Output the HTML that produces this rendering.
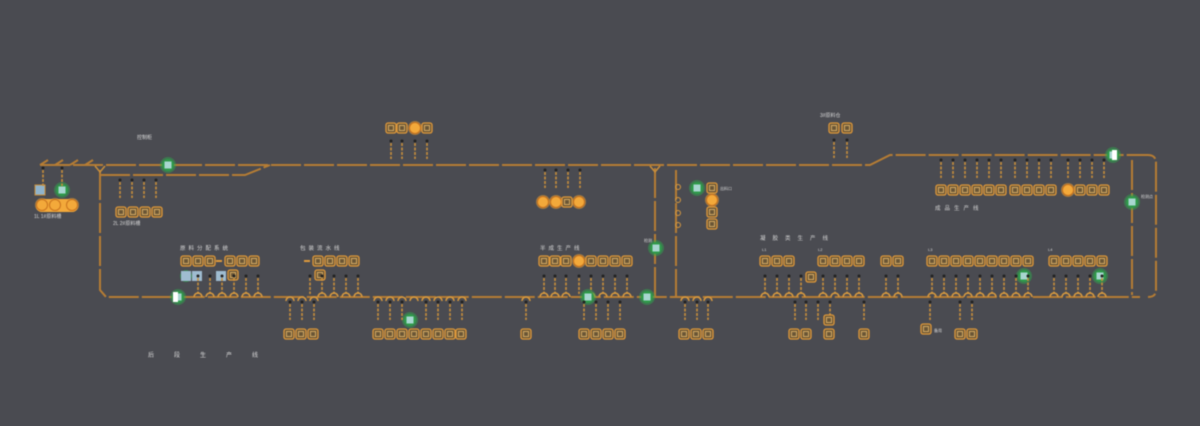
<!DOCTYPE html>
<html><head><meta charset="utf-8"><style>
html,body{margin:0;padding:0;background:#4a4b51;}
svg{display:block;filter:blur(0.6px)}
text{font-family:"Liberation Sans","Noto Sans CJK SC",sans-serif;fill:#d8d8d8}
</style></head><body>
<svg width="1200" height="426" viewBox="0 0 1200 426" xmlns="http://www.w3.org/2000/svg">
<defs>
<g id="b"><rect x="-5" y="-5" width="10" height="10" rx="2" fill="#6a5636" stroke="#e09a3c" stroke-width="1.3"/><rect x="-2.5" y="-2.5" width="5" height="5" fill="none" stroke="#f0c070" stroke-width="0.8"/></g>
<g id="s"><line x1="0" y1="0" x2="0" y2="16" stroke="#c98f3c" stroke-width="1.6" stroke-dasharray="3 1.5"/><circle cx="0" cy="-2" r="1.5" fill="#222"/></g>
<g id="u"><path d="M-4 3 A4 4 0 0 1 4 3" fill="none" stroke="#d89a40" stroke-width="1.6"/></g>
<g id="o"><circle r="7" fill="#f3a93a" opacity="0.5"/><circle r="5.5" fill="#f3a93a" stroke="#c8721e" stroke-width="1"/></g>
<g id="g"><circle r="8" fill="#2fae4e" opacity="0.45"/><circle r="6" fill="#2f9a4a"/><rect x="-3.5" y="-3.5" width="7" height="7" fill="#a8d6d0"/></g>
</defs>
<g fill="none" stroke="#b67d34" stroke-width="2" stroke-dasharray="30 3">
<path d="M40 165 H870 L890 155 H1148 Q1156 155 1156 163 V290 Q1156 297 1148 297"/>
<path d="M100 175 H245 L270 165"/>
<path d="M100 170 V290 L106 297 H1140"/>
<path d="M655 168 V297"/><path d="M676 170 V297"/>
<path d="M1132 160 V295"/>
<path d="M40 165 L48 160 M55 165 L63 160 M70 165 L78 160 M85 165 L93 160"/>
</g>
<path d="M95 166 L100 172 L105 166" stroke="#c98f3c" fill="none" stroke-width="1.5"/>
<path d="M650 166 L655 172 L660 166" stroke="#c98f3c" fill="none" stroke-width="1.5"/>
<rect x="35" y="185" width="10" height="10" fill="#8fb3cc" stroke="#c98f3c"/>
<use href="#g" x="62" y="190"/>
<rect x="36" y="199" width="42" height="13" rx="6" fill="#f3a93a"/>
<use href="#o" x="42" y="205"/><use href="#o" x="55" y="205"/><use href="#o" x="72" y="205"/>
<text x="34" y="218" font-size="5">1L 1#原料槽</text>
<use href="#s" x="43" y="170"/><use href="#s" x="62" y="170"/>
<use href="#g" x="168" y="165"/><text x="137" y="139" font-size="5">控制柜</text>
<use href="#s" x="120" y="182"/><use href="#s" x="132" y="182"/><use href="#s" x="144" y="182"/><use href="#s" x="156" y="182"/>
<use href="#b" x="121" y="212"/><use href="#b" x="133" y="212"/><use href="#b" x="145" y="212"/><use href="#b" x="157" y="212"/>
<text x="113" y="225" font-size="5">2L 2#原料槽</text>
<use href="#b" x="391" y="128"/><use href="#b" x="402" y="128"/><use href="#o" x="415" y="128"/><use href="#b" x="427" y="128"/>
<use href="#s" x="391" y="143"/><use href="#s" x="402" y="143"/><use href="#s" x="415" y="143"/><use href="#s" x="427" y="143"/>
<use href="#s" x="545" y="172"/><use href="#s" x="556" y="172"/><use href="#s" x="568" y="172"/><use href="#s" x="580" y="172"/>
<use href="#o" x="543" y="202"/><use href="#o" x="556" y="202"/><use href="#b" x="567" y="202"/><use href="#o" x="579" y="202"/>
<text x="820" y="117" font-size="5">3#原料仓</text>
<use href="#b" x="834" y="128"/><use href="#b" x="847" y="128"/>
<use href="#s" x="834" y="142"/><use href="#s" x="847" y="142"/>
<circle cx="678" cy="187" r="2.5" fill="none" stroke="#d89a40"/><circle cx="678" cy="200" r="2.5" fill="none" stroke="#d89a40"/><circle cx="678" cy="213" r="2.5" fill="none" stroke="#d89a40"/><circle cx="678" cy="225" r="2.5" fill="none" stroke="#d89a40"/>
<use href="#g" x="697" y="188"/><use href="#b" x="712" y="188"/><text x="720" y="190" font-size="4">出料口</text>
<use href="#o" x="712" y="200"/><use href="#b" x="712" y="212"/><use href="#b" x="712" y="224"/>
<use href="#g" x="656" y="248"/><text x="644" y="242" font-size="4">检测</text>
<use href="#s" x="941" y="162"/><use href="#s" x="953" y="162"/><use href="#s" x="965" y="162"/><use href="#s" x="977" y="162"/><use href="#s" x="989" y="162"/><use href="#s" x="1001" y="162"/><use href="#s" x="1015" y="162"/><use href="#s" x="1027" y="162"/><use href="#s" x="1039" y="162"/><use href="#s" x="1051" y="162"/><use href="#s" x="1068" y="162"/><use href="#s" x="1080" y="162"/><use href="#s" x="1092" y="162"/><use href="#s" x="1104" y="162"/>
<use href="#b" x="941" y="190"/><use href="#b" x="953" y="190"/><use href="#b" x="965" y="190"/><use href="#b" x="977" y="190"/><use href="#b" x="989" y="190"/><use href="#b" x="1001" y="190"/><use href="#b" x="1015" y="190"/><use href="#b" x="1027" y="190"/><use href="#b" x="1039" y="190"/><use href="#b" x="1051" y="190"/><use href="#o" x="1068" y="190"/><use href="#b" x="1080" y="190"/><use href="#b" x="1092" y="190"/><use href="#b" x="1104" y="190"/>
<text x="935" y="210" font-size="5.5" letter-spacing="4">成品生产线</text>
<use href="#g" x="1113" y="155"/><rect x="1112" y="150" width="5" height="10" fill="#fff"/>
<use href="#g" x="1132" y="202"/><text x="1141" y="198" font-size="4">检测点</text>
<text x="180" y="250" font-size="5.5" letter-spacing="3">原料分配系统</text>
<use href="#b" x="186" y="261"/><use href="#b" x="198" y="261"/><use href="#b" x="210" y="261"/><line x1="216" y1="261" x2="222" y2="261" stroke="#e09a3c" stroke-width="2"/><use href="#b" x="230" y="261"/><use href="#b" x="242" y="261"/><use href="#b" x="254" y="261"/>
<circle cx="186" cy="276" r="6" fill="#2f9a4a" opacity="0.7"/><rect x="181" y="271" width="10" height="10" fill="#9fbcd0"/><rect x="192" y="271" width="10" height="10" fill="#9fbcd0"/><rect x="216" y="271" width="10" height="10" fill="#9fbcd0"/><use href="#b" x="233" y="275"/>
<use href="#g" x="178" y="297"/><rect x="173" y="292" width="5" height="10" fill="#fff"/>
<text x="300" y="250" font-size="5.5" letter-spacing="3">包装流水线</text>
<line x1="304" y1="261" x2="310" y2="261" stroke="#e09a3c" stroke-width="2"/><use href="#b" x="318" y="261"/><use href="#b" x="330" y="261"/><use href="#b" x="342" y="261"/><use href="#b" x="354" y="261"/><use href="#b" x="320" y="275"/>
<text x="540" y="250" font-size="5.5" letter-spacing="3">半成生产线</text>
<use href="#b" x="544" y="261"/><use href="#b" x="555" y="261"/><use href="#b" x="566" y="261"/><use href="#o" x="579" y="261"/><use href="#b" x="591" y="261"/><use href="#b" x="603" y="261"/><use href="#b" x="615" y="261"/><use href="#b" x="627" y="261"/>
<text x="760" y="240" font-size="5.5" letter-spacing="7">凝胶类生产线</text>
<text x="762" y="251" font-size="4">L1</text><text x="818" y="251" font-size="4">L2</text><text x="928" y="251" font-size="4">L3</text><text x="1048" y="251" font-size="4">L4</text>
<use href="#b" x="765" y="261"/><use href="#b" x="777" y="261"/><use href="#b" x="789" y="261"/><use href="#b" x="811" y="277"/>
<use href="#b" x="823" y="261"/><use href="#b" x="835" y="261"/><use href="#b" x="847" y="261"/><use href="#b" x="859" y="261"/>
<use href="#b" x="886" y="261"/><use href="#b" x="898" y="261"/>
<use href="#b" x="932" y="261"/><use href="#b" x="944" y="261"/><use href="#b" x="956" y="261"/><use href="#b" x="968" y="261"/><use href="#b" x="980" y="261"/><use href="#b" x="992" y="261"/><use href="#b" x="1004" y="261"/><use href="#b" x="1016" y="261"/><use href="#b" x="1028" y="261"/>
<use href="#b" x="1054" y="261"/><use href="#b" x="1066" y="261"/><use href="#b" x="1078" y="261"/><use href="#b" x="1090" y="261"/><use href="#b" x="1102" y="261"/>
<use href="#g" x="1024" y="276"/><use href="#g" x="1100" y="276"/>
<g>
<use href="#s" x="198" y="278"/><use href="#s" x="210" y="278"/><use href="#s" x="222" y="278"/><use href="#s" x="234" y="278"/><use href="#s" x="246" y="278"/><use href="#s" x="258" y="278"/>
<use href="#s" x="310" y="278"/><use href="#s" x="322" y="278"/><use href="#s" x="334" y="278"/><use href="#s" x="346" y="278"/><use href="#s" x="358" y="278"/>
<use href="#s" x="544" y="278"/><use href="#s" x="555" y="278"/><use href="#s" x="566" y="278"/><use href="#s" x="579" y="278"/><use href="#s" x="591" y="278"/><use href="#s" x="603" y="278"/><use href="#s" x="615" y="278"/><use href="#s" x="627" y="278"/>
<use href="#s" x="765" y="278"/><use href="#s" x="777" y="278"/><use href="#s" x="789" y="278"/><use href="#s" x="801" y="278"/><use href="#s" x="823" y="278"/><use href="#s" x="835" y="278"/><use href="#s" x="847" y="278"/><use href="#s" x="859" y="278"/><use href="#s" x="886" y="278"/><use href="#s" x="898" y="278"/>
<use href="#s" x="932" y="278"/><use href="#s" x="944" y="278"/><use href="#s" x="956" y="278"/><use href="#s" x="968" y="278"/><use href="#s" x="980" y="278"/><use href="#s" x="992" y="278"/><use href="#s" x="1004" y="278"/><use href="#s" x="1016" y="278"/><use href="#s" x="1028" y="278"/>
<use href="#s" x="1054" y="278"/><use href="#s" x="1066" y="278"/><use href="#s" x="1078" y="278"/><use href="#s" x="1090" y="278"/><use href="#s" x="1102" y="278"/>
</g>
<g>
<use href="#u" x="198" y="294"/><use href="#u" x="210" y="294"/><use href="#u" x="222" y="294"/><use href="#u" x="234" y="294"/><use href="#u" x="246" y="294"/><use href="#u" x="258" y="294"/>
<use href="#u" x="290" y="298"/><use href="#u" x="302" y="298"/><use href="#u" x="314" y="298"/><use href="#u" x="322" y="294"/><use href="#u" x="334" y="294"/><use href="#u" x="346" y="294"/><use href="#u" x="358" y="294"/>
<use href="#u" x="378" y="298"/><use href="#u" x="390" y="298"/><use href="#u" x="402" y="298"/><use href="#u" x="414" y="298"/><use href="#u" x="426" y="298"/><use href="#u" x="438" y="298"/><use href="#u" x="450" y="298"/><use href="#u" x="462" y="298"/>
<use href="#u" x="526" y="298"/><use href="#u" x="544" y="294"/><use href="#u" x="555" y="294"/><use href="#u" x="566" y="294"/><use href="#u" x="591" y="294"/><use href="#u" x="603" y="294"/><use href="#u" x="615" y="294"/><use href="#u" x="627" y="294"/>
<use href="#u" x="685" y="298"/><use href="#u" x="697" y="298"/><use href="#u" x="708" y="298"/>
<use href="#u" x="765" y="294"/><use href="#u" x="777" y="294"/><use href="#u" x="789" y="294"/><use href="#u" x="801" y="294"/><use href="#u" x="823" y="294"/><use href="#u" x="835" y="294"/><use href="#u" x="847" y="294"/><use href="#u" x="859" y="294"/><use href="#u" x="886" y="294"/><use href="#u" x="898" y="294"/>
<use href="#u" x="932" y="294"/><use href="#u" x="944" y="294"/><use href="#u" x="956" y="294"/><use href="#u" x="968" y="294"/><use href="#u" x="980" y="294"/><use href="#u" x="992" y="294"/><use href="#u" x="1004" y="294"/><use href="#u" x="1016" y="294"/><use href="#u" x="1028" y="294"/>
<use href="#u" x="1054" y="294"/><use href="#u" x="1066" y="294"/><use href="#u" x="1078" y="294"/><use href="#u" x="1090" y="294"/><use href="#u" x="1102" y="294"/>
</g>
<use href="#g" x="588" y="297"/><use href="#g" x="647" y="297"/><use href="#g" x="410" y="320"/>
<g>
<use href="#s" x="290" y="304"/><use href="#s" x="302" y="304"/><use href="#s" x="314" y="304"/>
<use href="#s" x="378" y="304"/><use href="#s" x="390" y="304"/><use href="#s" x="402" y="304"/><use href="#s" x="426" y="304"/><use href="#s" x="438" y="304"/><use href="#s" x="450" y="304"/><use href="#s" x="462" y="304"/>
<use href="#s" x="526" y="304"/><use href="#s" x="584" y="304"/><use href="#s" x="596" y="304"/><use href="#s" x="608" y="304"/><use href="#s" x="620" y="304"/>
<use href="#s" x="685" y="304"/><use href="#s" x="697" y="304"/><use href="#s" x="708" y="304"/>
<use href="#s" x="795" y="304"/><use href="#s" x="806" y="304"/><use href="#s" x="818" y="304"/><use href="#s" x="830" y="304"/><use href="#s" x="864" y="304"/><use href="#s" x="930" y="304"/><use href="#s" x="960" y="304"/><use href="#s" x="972" y="304"/>
</g>
<use href="#b" x="289" y="334"/><use href="#b" x="301" y="334"/><use href="#b" x="313" y="334"/>
<use href="#b" x="378" y="334"/><use href="#b" x="390" y="334"/><use href="#b" x="402" y="334"/><use href="#b" x="414" y="334"/><use href="#b" x="426" y="334"/><use href="#b" x="438" y="334"/><use href="#b" x="450" y="334"/><use href="#b" x="461" y="334"/>
<use href="#b" x="526" y="334"/>
<use href="#b" x="584" y="334"/><use href="#b" x="596" y="334"/><use href="#b" x="608" y="334"/><use href="#b" x="620" y="334"/>
<use href="#b" x="684" y="334"/><use href="#b" x="696" y="334"/><use href="#b" x="708" y="334"/>
<use href="#b" x="794" y="334"/><use href="#b" x="806" y="334"/><use href="#b" x="829" y="320"/><use href="#b" x="829" y="334"/><use href="#b" x="864" y="334"/>
<use href="#b" x="926" y="329"/><text x="934" y="332" font-size="4">备用</text>
<use href="#b" x="960" y="334"/><use href="#b" x="972" y="334"/>
<text x="148" y="357" font-size="6" letter-spacing="20">后段生产线</text>
</svg>
</body></html>
